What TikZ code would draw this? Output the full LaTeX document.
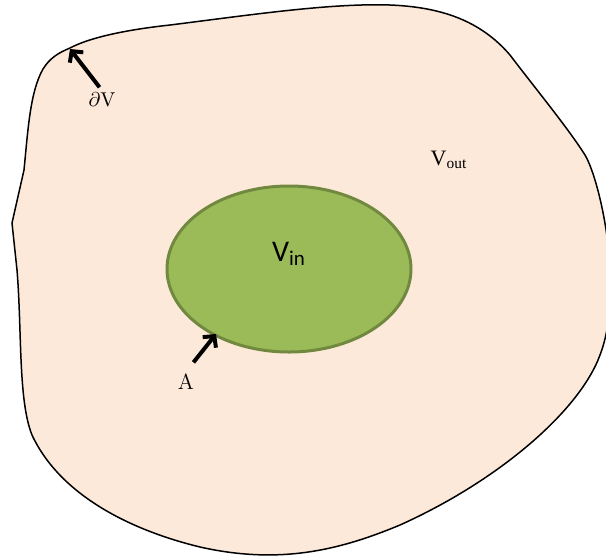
\documentclass[tikz,border=0pt]{standalone}
\usepackage{fontspec}
\usetikzlibrary{arrows.meta}
\newfontfamily\calibrifont{Carlito}
\newfontfamily\timesfont{Liberation Serif}
\definecolor{peach}{HTML}{FDE9D9}
\definecolor{leafgreen}{HTML}{9BBB59}
\definecolor{leafedge}{HTML}{71893F}

\begin{document}
\begin{tikzpicture}[x=0.5pt, y=-0.5pt, >={Straight Barb[length=4pt,width=8.5pt]}]
    \useasboundingbox (0,0) rectangle (606,559);
    \clip (0,0) rectangle (606,559);
    % V: the outer region with boundary dV
    \draw[fill=peach, line width=0.75pt]
        (70,48) .. controls (85,40) and (115,31) .. (170,25)
        .. controls (250,15) and (330,3) .. (390,5)
        .. controls (440,7) and (480,20) .. (510,55)
        .. controls (535,88) and (568,128) .. (585,155)
        .. controls (600,180) and (625,290) .. (600,355)
        .. controls (580,410) and (500,480) .. (400,525)
        .. controls (340,550) and (280,565) .. (200,547)
        .. controls (130,530) and (60,495) .. (32,435)
        .. controls (18,400) and (22,330) .. (17,270)
        -- (12,223) -- (24,170)
        .. controls (28,130) and (30,92) .. (43,69)
        .. controls (50,58) and (58,53) .. cycle;

    % V_in: the inner region with boundary A
    \draw[fill=leafgreen, draw=leafedge, line width=1.5pt] (289,269) ellipse [x radius=122, y radius=83];

    \node[font=\calibrifont\fontsize{15}{18}\selectfont] (vin) at (289,254) {V\textsubscript{in}};
    \node[font=\timesfont\fontsize{11}{13}\selectfont] (vout) at (449,160) {V\textsubscript{out}};
    \node[inner sep=1pt] (dv) at (102,100) {$\partial$V};
    \node[inner sep=1pt, font=\fontsize{11}{13}\selectfont] (a) at (186,382) {A};

    \coordinate (dvtip) at (70,49);
    \coordinate (atip) at (216,334);
    \draw[->, line width=2pt, shorten <=2pt] (dv.north) -- (dvtip);
    \draw[->, line width=2pt, shorten <=6pt] (a.north) -- (atip);
\end{tikzpicture}
\end{document}
